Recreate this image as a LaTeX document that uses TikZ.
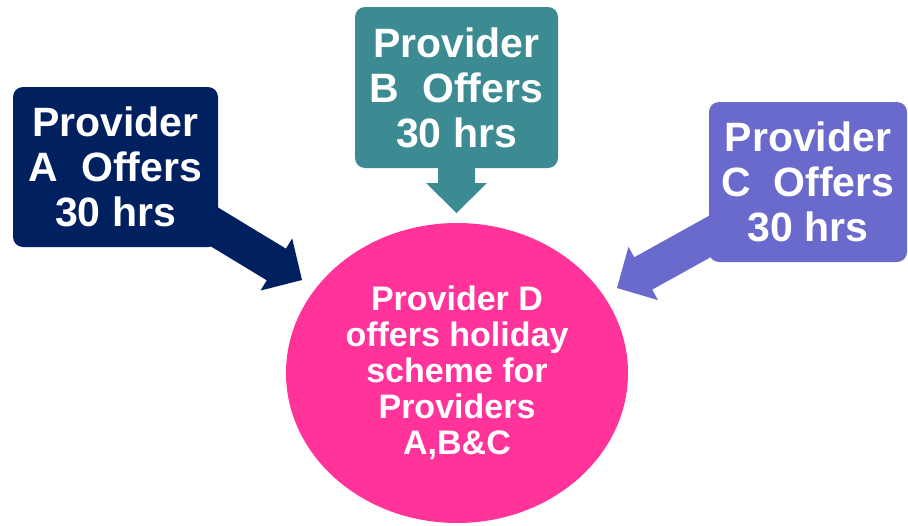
\documentclass[tikz,border=0pt]{standalone}
\usepackage{fontspec}
\setmainfont{Liberation Sans}
\usetikzlibrary{shapes.geometric,calc,backgrounds}

\definecolor{provA}{HTML}{002060}
\definecolor{provB}{HTML}{3D8B92}
\definecolor{provC}{HTML}{6A6ACC}
\definecolor{provD}{HTML}{FF3399}

% block arrow: #1 colour, #2 start node, #3 tip coordinate
\newcommand{\blockarrow}[3]{%
  \coordinate (hb) at ($(#3)!30pt!(#2)$);
  \fill[#1] ($(#2)!18.5pt!90:(#3)$) -- ($(hb)!18.5pt!-90:(#2)$) -- ($(hb)!30.5pt!-90:(#2)$)
    -- (#3) -- ($(hb)!30.5pt!90:(#2)$) -- ($(hb)!18.5pt!90:(#2)$) -- ($(#2)!18.5pt!-90:(#3)$) -- cycle;
}

\begin{document}
\begin{tikzpicture}[
    x=1pt, y=-1pt,
    provbox/.style={rectangle, rounded corners=10pt, text=white, align=center, inner sep=0pt,
      font=\fontsize{41}{45}\selectfont\bfseries},
    holiday/.style={ellipse, fill=provD, text=white, align=center, inner sep=0pt,
      minimum width=342pt, minimum height=300pt, font=\fontsize{34}{36}\selectfont\bfseries}
]
\useasboundingbox (0,0) rectangle (908,525);

% Providers offering hours
\node[provbox, fill=provA, minimum width=205pt, minimum height=160pt] (provA) at (115.5,167) {Provider\\A\ \ Offers\\30 hrs};
\node[provbox, fill=provB, minimum width=203pt, minimum height=161pt] (provB) at (456.5,87.5) {Provider\\B\ \ Offers\\30 hrs};
\node[provbox, fill=provC, minimum width=198pt, minimum height=160pt] (provC) at (808,182) {Provider\\C\ \ Offers\\30 hrs};

% Holiday scheme
\node[holiday] (provD) at (457,373) {Provider D\\offers holiday\\scheme for\\Providers\\A,B\&C};

% Arrow tips
\coordinate (tipA) at (302,280);
\coordinate (tipB) at (456.5,213);
\coordinate (tipC) at (617,288);

\begin{scope}[on background layer]
  \blockarrow{provA}{provA}{tipA}
  \blockarrow{provB}{provB}{tipB}
  \blockarrow{provC}{provC}{tipC}
\end{scope}

\end{tikzpicture}
\end{document}
